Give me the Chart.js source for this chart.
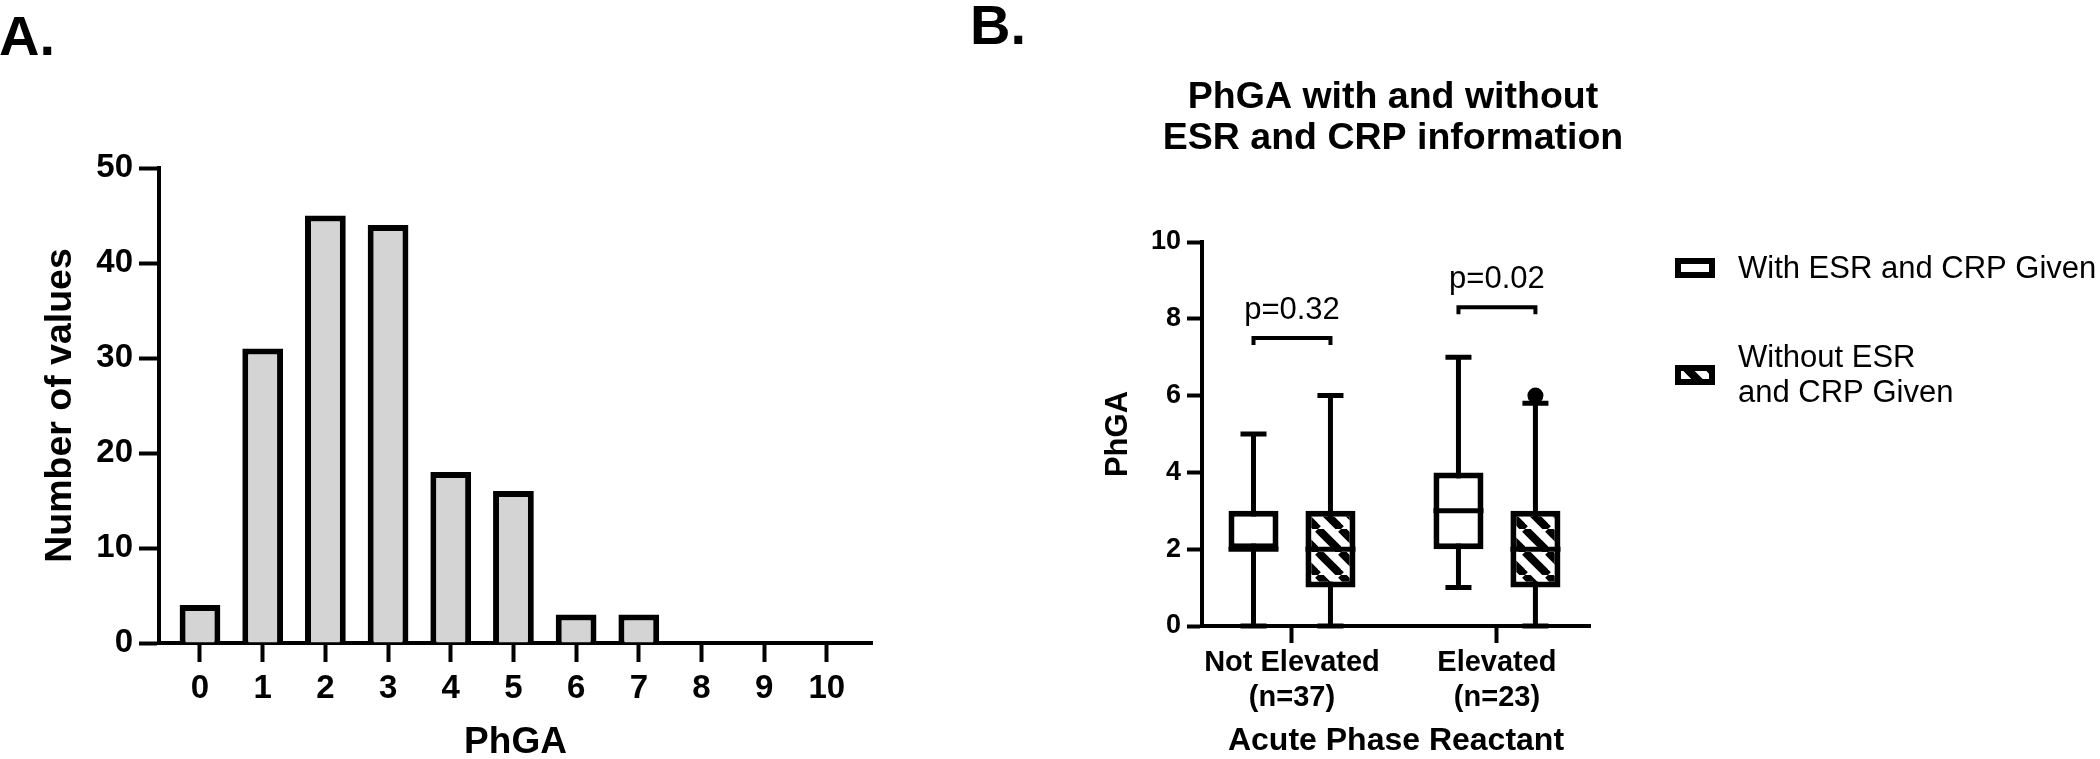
<!DOCTYPE html>
<html>
<head>
<meta charset="utf-8">
<script src="https://cdn.jsdelivr.net/npm/chart.js@4.4.1/dist/chart.umd.min.js"></script>
<style>
  html, body { margin: 0; padding: 0; background: #fff; }
  body { width: 2100px; height: 759px; position: relative; overflow: hidden; }
  #chartA { position: absolute; left: 0; top: 0; }
  #chartB { position: absolute; left: 950px; top: 0; }
</style>
</head>
<body>
<canvas id="chartA" width="950" height="759"></canvas>
<canvas id="chartB" width="1150" height="759"></canvas>
<script>
// panel A: histogram of PhGA
const phgaLevels = [0, 1, 2, 3, 4, 5, 6, 7, 8, 9, 10];
const phgaCounts = [4, 31, 45, 44, 18, 16, 3, 3, 0, 0, 0];

// panel B: box plots
const groups = ['Not Elevated', 'Elevated'];
const groupN = [37, 23];
const seriesNames = ['With ESR and CRP Given', 'Without ESR and CRP Given'];
const withMin = [0, 1];
const withQ1 = [2, 2];
const withMedian = [2, 3];
const withQ3 = [3, 4];
const withMax = [5, 7];
const withoutMin = [0, 0];
const withoutQ1 = [1, 1];
const withoutMedian = [2, 2];
const withoutQ3 = [3, 3];
const withoutMax = [6, 5.8];
const withoutOutliers = [[], [6]];
const pLabels = ['p=0.32', 'p=0.02'];
const bracketLevels = [7.5, 8.3];
const titleB = ['PhGA with and without', 'ESR and CRP information'];

Chart.defaults.font.family = "'Liberation Sans', Arial, sans-serif";
Chart.defaults.color = '#000';

const FONT = "'Liberation Sans', Arial, sans-serif";

// diagonal hatch for the "without" boxes
function makeHatch() {
  const s = 23;
  const c = document.createElement('canvas');
  c.width = s; c.height = s;
  const g = c.getContext('2d');
  g.fillStyle = '#fff';
  g.fillRect(0, 0, s, s);
  g.strokeStyle = '#000';
  g.lineWidth = 8;
  for (let k = -1; k <= 1; k++) {
    g.beginPath();
    g.moveTo(k * s, 0);
    g.lineTo(k * s + s, s);
    g.stroke();
  }
  return g.createPattern(c, 'repeat');
}
const hatch = makeHatch();

function axisStyle(tickLen) {
  return {
    grid: { drawOnChartArea: false, drawTicks: true, tickLength: tickLen, tickWidth: 4, tickColor: '#000', offset: false },
    border: { display: true, color: '#000', width: 4 }
  };
}

const panelLabel = (txt, x, y) => ({
  id: 'panelLabel' + txt,
  afterDraw(chart) {
    const ctx = chart.ctx;
    ctx.save();
    ctx.fillStyle = '#000';
    ctx.font = 'bold 56px ' + FONT;
    ctx.textBaseline = 'alphabetic';
    ctx.fillText(txt, x, y);
    ctx.restore();
  }
});

// ---------- A ----------
new Chart('chartA', {
  type: 'bar',
  data: {
    datasets: [{
      label: 'Number of values',
      data: phgaLevels.map((v, i) => ({ x: v, y: phgaCounts[i] })),
      backgroundColor: '#d4d4d4',
      borderColor: '#000',
      borderWidth: 6,
      borderSkipped: 'start',
      categoryPercentage: 1,
      barPercentage: 0.65
    }]
  },
  options: {
    responsive: false,
    animation: false,
    layout: { padding: { left: 0, right: 78, top: 168, bottom: 0 } },
    plugins: { legend: { display: false }, tooltip: { enabled: false } },
    scales: {
      x: {
        type: 'linear', min: -0.654, max: 10.72, offset: false, z: 1,
        afterFit: (s) => { s.height = 116; },
        ...axisStyle(19),
        ticks: { stepSize: 1, includeBounds: false, padding: 7, maxRotation: 0, font: { size: 33, weight: 'bold' } },
        title: { display: true, text: 'PhGA', font: { size: 37, weight: 'bold' }, padding: { top: 0, bottom: -6 } }
      },
      y: {
        min: 0, max: 50,
        afterFit: (s) => { s.width = 159; },
        ...axisStyle(20),
        ticks: { stepSize: 10, padding: 6, font: { size: 33, weight: 'bold' } },
        title: { display: true, text: 'Number of values', font: { size: 37.5, weight: 'bold' }, padding: { top: 38, bottom: 0 } }
      }
    }
  },
  plugins: [panelLabel('A.', -1, 55)]
});

// ---------- B ----------
const boxStats = [
  { min: withMin, med: withMedian, max: withMax, out: [[], []] },
  { min: withoutMin, med: withoutMedian, max: withoutMax, out: withoutOutliers }
];

const boxParts = {
  id: 'boxParts',
  beforeDatasetsDraw(chart) {
    const ctx = chart.ctx, y = chart.scales.y;
    ctx.save();
    ctx.strokeStyle = '#000';
    ctx.lineWidth = 5;
    boxStats.forEach((st, d) => {
      chart.getDatasetMeta(d).data.forEach((bar, i) => {
        const cx = bar.x, half = bar.width * 0.26;
        const lo = y.getPixelForValue(st.min[i]), hi = y.getPixelForValue(st.max[i]);
        ctx.beginPath();
        ctx.moveTo(cx, lo); ctx.lineTo(cx, hi);
        ctx.moveTo(cx - half, lo); ctx.lineTo(cx + half, lo);
        ctx.moveTo(cx - half, hi); ctx.lineTo(cx + half, hi);
        ctx.stroke();
      });
    });
    ctx.restore();
  },
  afterDatasetsDraw(chart) {
    const ctx = chart.ctx, y = chart.scales.y;
    ctx.save();
    ctx.strokeStyle = '#000';
    ctx.fillStyle = '#000';
    ctx.lineWidth = 5;
    boxStats.forEach((st, d) => {
      chart.getDatasetMeta(d).data.forEach((bar, i) => {
        const ym = y.getPixelForValue(st.med[i]);
        ctx.beginPath();
        ctx.moveTo(bar.x - bar.width / 2, ym);
        ctx.lineTo(bar.x + bar.width / 2, ym);
        ctx.stroke();
        st.out[i].forEach((v) => {
          ctx.beginPath();
          ctx.arc(bar.x, y.getPixelForValue(v), 8, 0, Math.PI * 2);
          ctx.fill();
        });
      });
    });
    // significance brackets
    const m0 = chart.getDatasetMeta(0).data, m1 = chart.getDatasetMeta(1).data;
    ctx.lineWidth = 4;
    ctx.lineJoin = 'miter';
    ctx.font = '31px ' + FONT;
    ctx.textAlign = 'center';
    ctx.textBaseline = 'alphabetic';
    groups.forEach((g, i) => {
      const x1 = m0[i].x, x2 = m1[i].x, yb = y.getPixelForValue(bracketLevels[i]);
      ctx.beginPath();
      ctx.moveTo(x1, yb + 7); ctx.lineTo(x1, yb); ctx.lineTo(x2, yb); ctx.lineTo(x2, yb + 7);
      ctx.stroke();
      ctx.fillText(pLabels[i], (x1 + x2) / 2, yb - 19.5);
    });
    ctx.restore();
  },
  afterDraw(chart) {
    const ctx = chart.ctx, area = chart.chartArea;
    ctx.save();
    // title, two lines centred over the plot
    ctx.fillStyle = '#000';
    ctx.font = 'bold 37.5px ' + FONT;
    ctx.textAlign = 'center';
    ctx.textBaseline = 'alphabetic';
    const cx = (area.left + area.right) / 2 - 3;
    titleB.forEach((t, j) => ctx.fillText(t, cx, 108 + j * 41));

    // legend
    const fills = chart.data.datasets.map((ds) => ds.backgroundColor);
    const legendLines = [['With ESR and CRP Given'], ['Without ESR', 'and CRP Given']];
    const boxTop = [258, 365];
    const baselines = [[278], [367, 402]];
    ctx.font = '31px ' + FONT;
    ctx.textAlign = 'left';
    legendLines.forEach((lines, k) => {
      ctx.fillStyle = fills[k];
      ctx.fillRect(725, boxTop[k], 40, 20);
      ctx.strokeStyle = '#000';
      ctx.lineWidth = 6;
      ctx.strokeRect(728, boxTop[k] + 3, 34, 14);
      ctx.fillStyle = '#000';
      lines.forEach((t, j) => ctx.fillText(t, 788, baselines[k][j]));
    });
    ctx.restore();
  }
};

new Chart('chartB', {
  type: 'bar',
  data: {
    datasets: [
      {
        label: seriesNames[0],
        data: groups.map((g, i) => ({ x: i, y: [withQ1[i], withQ3[i]] })),
        backgroundColor: '#fff',
        borderColor: '#000',
        borderWidth: 6,
        borderSkipped: false,
        categoryPercentage: 0.751,
        barPercentage: 0.65
      },
      {
        label: seriesNames[1],
        data: groups.map((g, i) => ({ x: i, y: [withoutQ1[i], withoutQ3[i]] })),
        backgroundColor: hatch,
        borderColor: '#000',
        borderWidth: 6,
        borderSkipped: false,
        categoryPercentage: 0.751,
        barPercentage: 0.65
      }
    ]
  },
  options: {
    responsive: false,
    animation: false,
    layout: { padding: { left: 0, right: 510, top: 242, bottom: 0 } },
    plugins: {
      legend: { display: false },
      tooltip: { enabled: false }
    },
    scales: {
      x: {
        type: 'linear', min: -0.439, max: 1.454, offset: false,
        afterFit: (s) => { s.height = 133; },
        ...axisStyle(17),
        ticks: {
          stepSize: 1, includeBounds: false, padding: 3, maxRotation: 0, autoSkip: false,
          font: { size: 29, weight: 'bold' },
          callback: (v) => [groups[v], '(n=' + groupN[v] + ')']
        },
        title: { display: true, text: 'Acute Phase Reactant', font: { size: 32, weight: 'bold' }, padding: { top: 0, bottom: -1 } }
      },
      y: {
        min: 0, max: 10,
        afterFit: (s) => { s.width = 252; },
        ...axisStyle(15),
        ticks: { stepSize: 2, padding: 6, font: { size: 27, weight: 'bold' } },
        title: { display: true, text: 'PhGA', font: { size: 31, weight: 'bold' }, padding: { top: 150, bottom: 0 } }
      }
    }
  },
  plugins: [boxParts, panelLabel('B.', 20, 44)]
});
</script>
</body>
</html>
